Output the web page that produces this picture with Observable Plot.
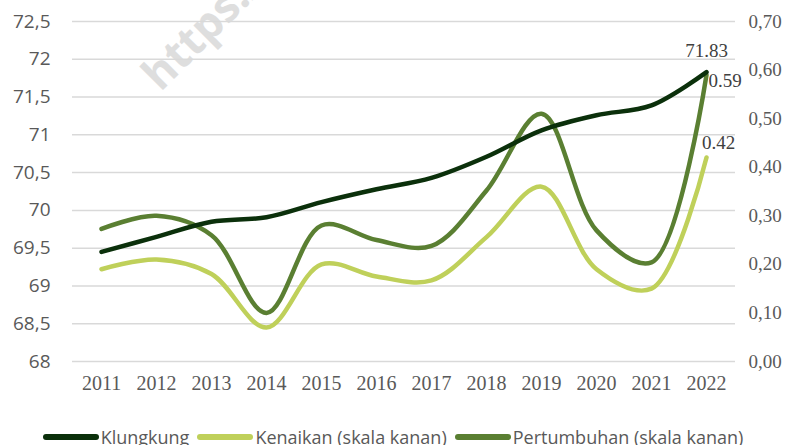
<!DOCTYPE html>
<html>
<head>
<meta charset="utf-8">
<script src="https://cdn.jsdelivr.net/npm/d3@7"></script>
<script src="https://cdn.jsdelivr.net/npm/@observablehq/plot@0.6"></script>
<style>
  body { margin: 0; background: #fff; overflow: hidden; }
  #chart { width: 786px; }
  .legend { display: flex; justify-content: center; align-items: center; font-family: "Open Sans", sans-serif; font-size: 18px; color: #595959; height: 30px; margin-top: 7px; white-space: nowrap; }
  .legend .item { display: flex; align-items: center; margin: 0 4px; }
  .legend .sw { width: 56px; height: 6px; border-radius: 3px; margin-right: 2px; }
</style>
</head>
<body>
<div id="chart"></div>
<script>
const years = ["2011","2012","2013","2014","2015","2016","2017","2018","2019","2020","2021","2022"];
const klungkung = [69.45, 69.65, 69.85, 69.91, 70.11, 70.28, 70.43, 70.71, 71.06, 71.26, 71.39, 71.83];
const kenaikan = [0.19, 0.21, 0.18, 0.07, 0.20, 0.175, 0.167, 0.256, 0.36, 0.19, 0.15, 0.42];
const pertumbuhan = [0.273, 0.30, 0.26, 0.10, 0.28, 0.25, 0.238, 0.352, 0.51, 0.27, 0.204, 0.59];
const leftTicks = [68, 68.5, 69, 69.5, 70, 70.5, 71, 71.5, 72, 72.5];
const rightTicks = [0, 0.1, 0.2, 0.3, 0.4, 0.5, 0.6, 0.7];
const seriesNames = ["Klungkung", "Kenaikan (skala kanan)", "Pertumbuhan (skala kanan)"];
const seriesColors = ["#0b300b", "#bfd05a", "#5a7f32"];

const leftMin = 68, leftMax = 72.5, rightMax = 0.7;
const toLeft = v => leftMin + v / rightMax * (leftMax - leftMin);
const fromLeft = l => (l - leftMin) / (leftMax - leftMin) * rightMax;

const dK = years.map((y, i) => ({year: y, v: klungkung[i]}));
const dN = years.map((y, i) => ({year: y, v: toLeft(kenaikan[i]), raw: kenaikan[i]}));
const dP = years.map((y, i) => ({year: y, v: toLeft(pertumbuhan[i]), raw: pertumbuhan[i]}));
const last = a => [a[a.length - 1]];
const comma = s => s.replace(".", ",");

const plot = Plot.plot({
  width: 786,
  height: 415,
  marginTop: 21,
  marginBottom: 54,
  marginLeft: 72,
  marginRight: 51,
  x: {type: "point", domain: years, padding: 0.5},
  y: {domain: [leftMin, leftMax]},
  style: {background: "#fff"},
  marks: [
    Plot.text(["https://"], {frameAnchor: "top-left", dx: 88, dy: 71, rotate: -45, textAnchor: "start", lineAnchor: "bottom",
      fontSize: 44, fontWeight: "bold", fill: "#dedede", fontFamily: "Open Sans, sans-serif"}),
    Plot.ruleY(leftTicks, {stroke: "#d9d9d9", strokeWidth: 1.5}),
    Plot.axisY({ticks: leftTicks, tickSize: 0, tickPadding: 22, tickFormat: d => comma(String(d)),
      fontSize: 19, fontFamily: "Open Sans, sans-serif", fill: "#595959", label: null}),
    Plot.axisY({anchor: "right", ticks: rightTicks.map(toLeft), tickSize: 0, tickPadding: 13,
      tickFormat: d => comma(fromLeft(d).toFixed(2)), fontSize: 19, fontFamily: "Liberation Serif, serif",
      fill: "#595959", label: null}),
    Plot.axisX({tickSize: 0, tickPadding: 14, fontSize: 20, fontFamily: "Liberation Serif, serif", fill: "#595959", label: null}),
    Plot.line(dN, {x: "year", y: "v", stroke: seriesColors[1], strokeWidth: 4.5, curve: "catmull-rom"}),
    Plot.line(dP, {x: "year", y: "v", stroke: seriesColors[2], strokeWidth: 4.5, curve: "catmull-rom"}),
    Plot.line(dK, {x: "year", y: "v", stroke: seriesColors[0], strokeWidth: 4.5, curve: "catmull-rom"}),
    Plot.text(last(dK), {x: "year", y: "v", text: d => d.v.toFixed(2), dy: -21, fontSize: 19,
      fontFamily: "Liberation Serif, serif", fill: "#404040"}),
    Plot.text(last(dP), {x: "year", y: "v", text: d => d.raw.toFixed(2), dx: 2, dy: 6, textAnchor: "start", fontSize: 19,
      fontFamily: "Liberation Serif, serif", fill: "#404040"}),
    Plot.text(last(dN), {x: "year", y: "v", text: d => d.raw.toFixed(2), dx: 12, dy: -15, fontSize: 19,
      fontFamily: "Liberation Serif, serif", fill: "#404040"})
  ]
});
document.getElementById("chart").appendChild(plot);

const legend = document.createElement("div");
legend.className = "legend";
seriesNames.forEach((n, i) => {
  const it = document.createElement("div");
  it.className = "item";
  const sw = document.createElement("span");
  sw.className = "sw";
  sw.style.background = seriesColors[i];
  const tx = document.createElement("span");
  tx.textContent = n;
  it.appendChild(sw); it.appendChild(tx);
  legend.appendChild(it);
});
document.getElementById("chart").appendChild(legend);
</script>
</body>
</html>
